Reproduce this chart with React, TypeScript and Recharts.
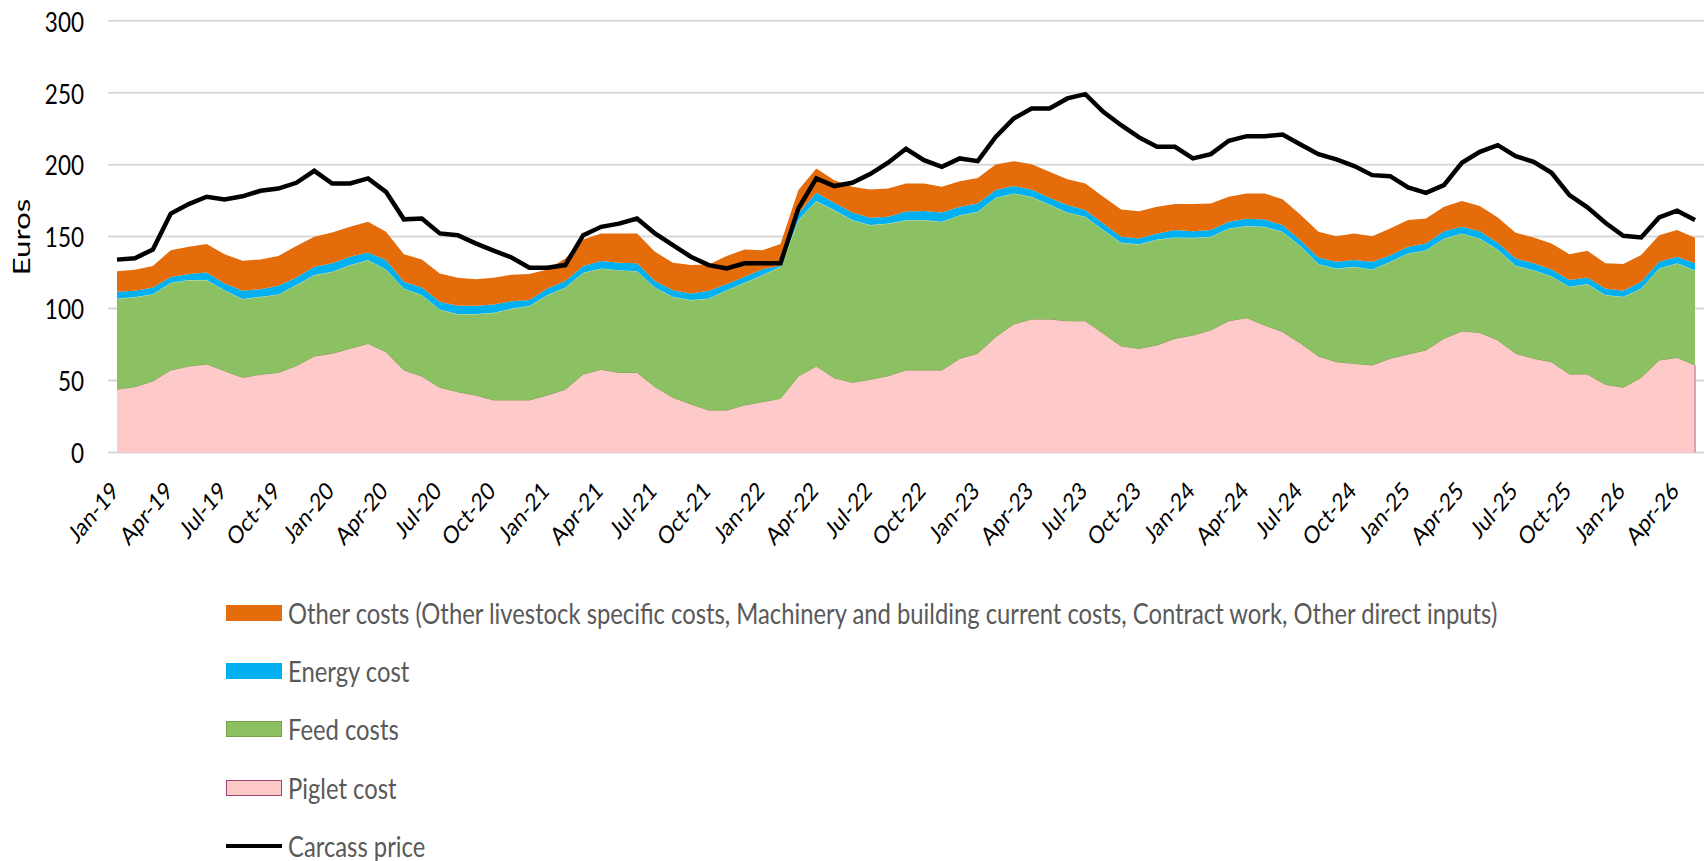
import { ComposedChart, Area, Line, XAxis, YAxis, CartesianGrid, ReferenceLine } from 'recharts';

// month labels Jan-19 .. May-26
const monthNames = ['Jan', 'Feb', 'Mar', 'Apr', 'May', 'Jun', 'Jul', 'Aug', 'Sep', 'Oct', 'Nov', 'Dec'];
const years = ['19', '20', '21', '22', '23', '24', '25', '26'];
const months = years.flatMap(y => monthNames.map(m => `${m}-${y}`)).slice(0, 89);

const pigletCost = [
  44, 45.7, 49.7, 57.3, 60, 61.5, 56.8, 52.2, 54.3, 55.6, 60.3, 67,
  68.9, 72.3, 75.8, 70, 57.3, 53.1, 45.3, 42.2, 39.9, 36.5, 36.5, 36.5,
  39.9, 43.9, 54.5, 57.8, 55.6, 55.6, 45.7, 38.3, 33.7, 29.5, 29.5, 33,
  35.3, 37.6, 53.1, 60, 51.9, 48.7, 50.8, 53.3, 57.3, 57.3, 57.3, 65.4,
  68.9, 80.4, 89.2, 92.7, 92.7, 91.5, 91.5, 82.8, 74, 72.3, 74.7, 79.3,
  81.6, 85.1, 91.5, 93.6, 88.5, 83.9, 76, 67, 63, 61.9, 60.8, 65.4,
  68.4, 71.2, 79.3, 84.4, 83.4, 78.1, 68.9, 65.4, 63, 54.5, 54.5, 47.3,
  45.3, 52.2, 64.2, 66.1, 60.8,
];

const feedCosts = [
  63, 62.3, 60.3, 60.7, 59.8, 58.3, 56, 54.4, 53.9, 54.2, 56, 56.3,
  56.7, 57.9, 57.9, 57.2, 56.7, 56.3, 54.1, 54, 56.3, 60.6, 63.5, 65.2,
  69.5, 70.8, 70.4, 70.1, 71.1, 70.4, 69, 69.9, 72.2, 77.5, 83.3, 84.9,
  88, 91.4, 108.4, 114.7, 116.5, 112.8, 107.2, 105.8, 104, 104.2, 103, 99.5,
  98.3, 96.6, 90.8, 85, 79.6, 75.3, 72.3, 71.7, 71.7, 72.3, 73.3, 70.1,
  67.6, 64.8, 64.2, 63.7, 68.3, 69.4, 67.5, 64, 64.9, 67.1, 66.4, 67.1,
  69.9, 69.4, 69.4, 67.8, 65.3, 62.9, 60.8, 61.3, 59.5, 60.7, 62.5, 62.1,
  62.9, 61.8, 63.7, 65.3, 65.9,
];

const energyCost = [
  4.7, 4.4, 4.7, 4, 4.2, 5.2, 4.7, 5.8, 5.3, 6.1, 5.3, 5.7,
  5.8, 5.8, 5.3, 6.5, 4.6, 5.3, 5.3, 5.8, 5.8, 5.8, 5, 4.2,
  4.6, 4.4, 4.6, 5.1, 5.1, 5.4, 4.4, 4.6, 4.6, 5.4, 4.2, 4.2,
  4.1, 1, 4.5, 5.7, 5.1, 5.3, 5.1, 4.7, 6.2, 6.2, 6.5, 5.8,
  5.8, 5.3, 5.1, 5.1, 4.7, 5.1, 4.6, 4.6, 4.2, 4, 4.2, 5.1,
  4.6, 4.6, 4.6, 5.1, 5.1, 4.7, 4, 4.4, 4.6, 4.7, 5.3, 4.6,
  4.6, 4.6, 5.1, 4.6, 5.1, 4.7, 5.1, 4.7, 4.7, 4.6, 4.6, 4.6,
  4.2, 4.6, 4.6, 4.6, 4.7,
];

const otherCosts = [
  14.3, 14.6, 14.8, 18.6, 19, 19.8, 20.3, 20.8, 20.6, 20.6, 21.8, 20.9,
  21.5, 20.8, 21.3, 19.6, 19.2, 19.4, 19.7, 19.4, 18.3, 18.5, 18.5, 18.1,
  13.2, 15.7, 18.5, 19.2, 20.4, 20.8, 20.4, 19, 19.7, 18.3, 19.5, 18.9,
  13.2, 14.8, 16.3, 16.9, 15.7, 17.8, 19.7, 19.6, 19.4, 19.2, 17.8, 17.8,
  17.8, 17.8, 17.3, 17.5, 18, 18, 18.5, 18.6, 19, 19, 18.5, 18.1,
  18.8, 18.5, 17.4, 17.6, 18.1, 18, 17.7, 18, 17.8, 18.5, 17.8, 18.6,
  18.6, 17.4, 16.9, 17.9, 17.4, 17.6, 17.9, 18, 18, 18, 18.6, 17.4,
  18.5, 18.6, 18.5, 18.5, 17.8,
];

const carcassPrice = [
  134, 135, 141, 166, 172.6, 177.7, 175.8, 178, 181.8, 183.4, 187.4, 195.7,
  186.9, 186.9, 190.4, 181.1, 162, 162.6, 152.2, 151, 145.3, 140.2, 135.5, 128.4,
  128.4, 130.2, 151, 156.8, 159, 162.6, 152.2, 144.1, 136, 130.2, 127.9, 131.4,
  131.4, 131.4, 169.6, 190.4, 185.1, 187.4, 193.4, 201.3, 211, 203.1, 198.5, 204.3,
  202.4, 219.3, 232, 239, 239, 246, 249, 236.7, 227.4, 218.9, 212.4, 212.4,
  204.3, 207.3, 216.6, 219.8, 219.8, 220.9, 214, 207.2, 203.6, 199, 192.7, 192,
  184.1, 180.4, 185.8, 201.3, 208.9, 213.5, 205.9, 201.9, 194.3, 178.8, 170.3, 159.6,
  150.6, 149.4, 163.3, 168, 161.5,
];

const yTicks = [0, 50, 100, 150, 200, 250, 300];

const data = months.map((month, i) => ({
  month,
  piglet: pigletCost[i],
  feed: feedCosts[i],
  energy: energyCost[i],
  other: otherCosts[i],
  carcass: carcassPrice[i],
}));

const FONT = 'Lato, Calibri, sans-serif';
// the source image is stretched vertically, so text is drawn a bit taller than wide
const STRETCH = 1.2;

const legendItems = [
  { label: 'Other costs (Other livestock specific costs, Machinery and building current costs, Contract work, Other direct inputs)', fill: '#e46c0a', stroke: '#e46c0a', line: false },
  { label: 'Energy cost', fill: '#00b0f0', stroke: '#00b0f0', line: false },
  { label: 'Feed costs', fill: '#8bc063', stroke: '#77a04c', line: false },
  { label: 'Piglet cost', fill: '#fdc9c9', stroke: '#a3416f', line: false },
  { label: 'Carcass price', fill: '#000', stroke: '#000', line: true },
];

const MonthTick = ({ x, y, payload }: any) => (
  <text
    x={0}
    y={0}
    transform={`translate(${x + 3}, ${y + 40}) scale(1, ${STRETCH}) rotate(-45)`}
    textAnchor="end"
    fontFamily={FONT}
    fontSize={20.5}
    fill="#000"
  >
    {payload.value}
  </text>
);

const EuroTick = ({ y, payload }: any) => (
  <text
    x={0}
    y={0}
    transform={`translate(84, ${y}) scale(1, ${STRETCH})`}
    textAnchor="end"
    dominantBaseline="central"
    fontFamily={FONT}
    fontSize={22.5}
    fill="#000"
  >
    {payload.value}
  </text>
);

export default function App() {
  return (
    <div style={{ position: 'absolute', left: 0, top: 0, width: 1707, height: 861, background: '#fff' }}>
      <ComposedChart
        width={1707}
        height={861}
        data={data}
        margin={{ top: 20.7, right: 3, left: 48, bottom: 328.5 }}
      >
        <CartesianGrid vertical={false} stroke="#d9d9d9" strokeWidth={2} />
        <XAxis
          dataKey="month"
          interval={2}
          axisLine={false}
          tickLine={false}
          tickSize={0}
          tickMargin={0}
          height={80}
          padding={{ left: 9, right: 9 }}
          tick={<MonthTick />}
        />
        <YAxis
          domain={[0, 300]}
          ticks={yTicks}
          width={60}
          axisLine={false}
          tickLine={false}
          tick={<EuroTick />}
        />
        <Area type="linear" dataKey="piglet" stackId="c" fill="#fdc9c9" fillOpacity={1} stroke="#7d9a4a" strokeWidth={1} isAnimationActive={false} />
        <Area type="linear" dataKey="feed" stackId="c" fill="#8bc063" fillOpacity={1} stroke="#cfe3bd" strokeWidth={1} isAnimationActive={false} />
        <Area type="linear" dataKey="energy" stackId="c" fill="#00b0f0" fillOpacity={1} stroke="none" isAnimationActive={false} />
        <Area type="linear" dataKey="other" stackId="c" fill="#e46c0a" fillOpacity={1} stroke="none" isAnimationActive={false} />
        <ReferenceLine segment={[{ x: months[0], y: 0 }, { x: months[88], y: 0 }]} stroke="#a3416f" strokeWidth={1.5} />
        <ReferenceLine segment={[{ x: months[0], y: 0 }, { x: months[0], y: pigletCost[0] }]} stroke="#a3416f" strokeWidth={1.5} />
        <ReferenceLine segment={[{ x: months[88], y: 0 }, { x: months[88], y: pigletCost[88] }]} stroke="#d38aa8" strokeWidth={1.5} />
        <Line type="linear" dataKey="carcass" stroke="#000" strokeWidth={4.5} dot={false} isAnimationActive={false} />
      </ComposedChart>

      {/* axis title */}
      <svg width={60} height={861} style={{ position: 'absolute', left: 0, top: 0 }}>
        <text
          x={0}
          y={0}
          transform={`translate(30, 237) rotate(-90) scale(1.3, 1)`}
          textAnchor="middle"
          fontFamily={FONT}
          fontSize={24}
          fill="#000"
        >
          Euros
        </text>
      </svg>

      {legendItems.map((item, i) => (
        <div
          key={item.label}
          style={{
            position: 'absolute',
            left: 226,
            top: 613 + i * 58.2 - 15,
            height: 30,
            display: 'flex',
            alignItems: 'center',
            fontFamily: FONT,
            fontSize: 23.8,
            color: '#595959',
            whiteSpace: 'nowrap',
          }}
        >
          {item.line ? (
            <div style={{ width: 56, height: 4, background: item.fill, marginRight: 6 }} />
          ) : (
            <div
              style={{
                width: 54,
                height: 14,
                background: item.fill,
                border: `1px solid ${item.stroke}`,
                marginRight: 6,
              }}
            />
          )}
          <span style={{ display: 'inline-block', transform: `scaleY(${STRETCH})` }}>{item.label}</span>
        </div>
      ))}
    </div>
  );
}
